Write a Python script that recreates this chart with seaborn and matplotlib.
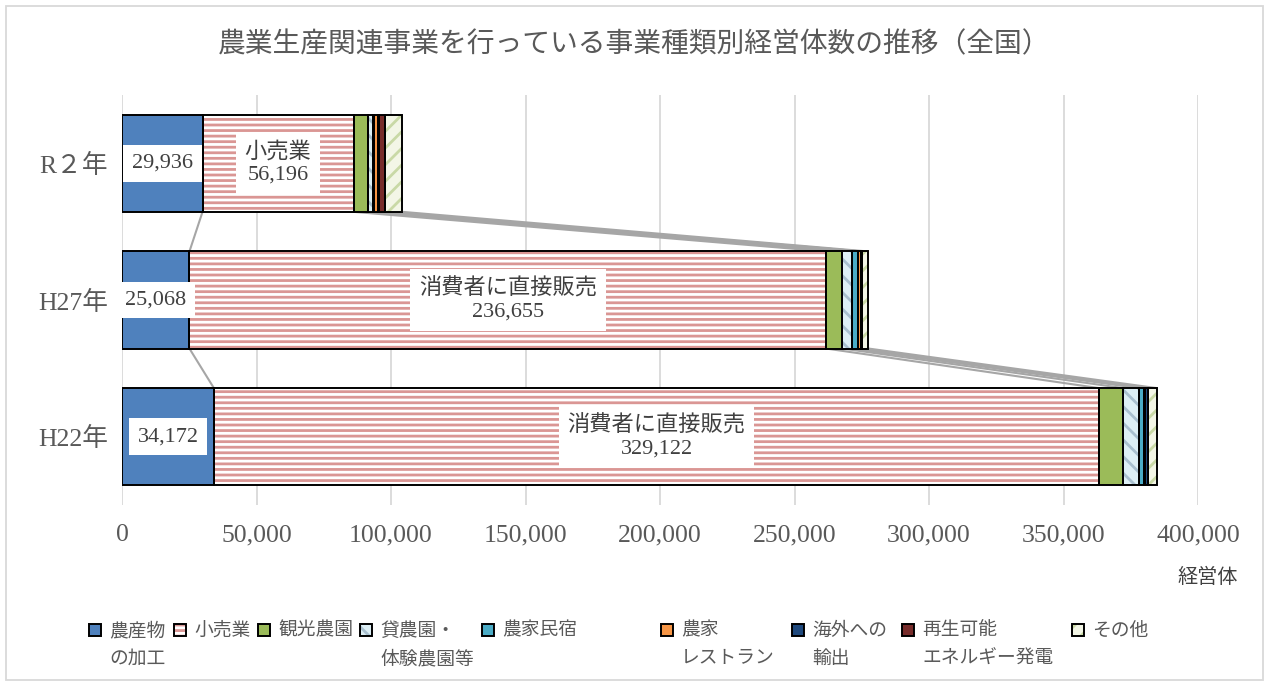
import numpy as np
import pandas as pd
import matplotlib
matplotlib.use("Agg")
import matplotlib.pyplot as plt
import seaborn as sns
from matplotlib.patches import Rectangle
from matplotlib.ticker import FuncFormatter

# ---------------- data ----------------
title = "農業生産関連事業を行っている事業種類別経営体数の推移（全国）"
years = ["R２年", "H27年", "H22年"]
series_names = ["農産物\nの加工", "小売業", "観光農園", "貸農園・\n体験農園等", "農家民宿",
                "農家\nレストラン", "海外への\n輸出", "再生可能\nエネルギー発電", "その他"]
processing = [29936, 25068, 34172]
retail = [56196, 236655, 329122]
tourist_farm = [5300, 6100, 9000]
rental_farm = [1800, 3700, 5900]
farm_inn = [600, 1900, 1900]
farm_restaurant = [1200, 1200, 300]
export = [500, 600, 1100]
renewable = [2100, 0, 0]
other = [6600, 2200, 3300]
retail_label_names = ["小売業", "消費者に直接販売", "消費者に直接販売"]
x_ticks = [0, 50000, 100000, 150000, 200000, 250000, 300000, 350000, 400000]
x_unit = "経営体"

all_series = [processing, retail, tourist_farm, rental_farm, farm_inn,
              farm_restaurant, export, renewable, other]

# face colour, hatch colour, hatch pattern
styles = [
    ("#4F81BD", "#4F81BD", None),
    ("white", "#DA9694", "---"),
    ("#9BBB59", "#9BBB59", None),
    ("#DDEFF5", "#A9C0CF", "\\\\"),
    ("#4BACC6", "#4BACC6", None),
    ("#F79646", "#F79646", None),
    ("#1F497D", "#1F497D", None),
    ("#772C2A", "#772C2A", None),
    ("#F3F6E6", "#C9D9A6", "//"),
]

# legend layout (pixel x of each key centre)
legend_key_px = [95, 180, 264, 366, 488, 667, 798, 908, 1078]

# ---------------- style ----------------
W, H = 1269, 686
sns.set_theme(style="white")
plt.rcParams["font.family"] = ["Liberation Serif", "Noto Sans CJK JP"]
plt.rcParams["hatch.linewidth"] = 2.0

fig = plt.figure(figsize=(W / 100, H / 100), dpi=100)
ax = fig.add_axes([122 / W, 1 - 505 / H, (1198 - 122) / W, 410 / H])

bar_h = 0.71
lefts = np.zeros(len(years))
for vals, (fc, hc, hatch) in zip(all_series, styles):
    v = np.asarray(vals, dtype=float)
    sns.barplot(x=v, y=years, order=years, orient="h", width=bar_h, left=lefts,
                color=fc, saturation=1, facecolor=fc, edgecolor=hc, linewidth=0,
                hatch=hatch, errorbar=None, ax=ax, zorder=2)
    sns.barplot(x=v, y=years, order=years, orient="h", width=bar_h, left=lefts,
                color="black", saturation=1, facecolor="none", edgecolor="black",
                linewidth=1.4, errorbar=None, ax=ax, zorder=3)
    lefts = lefts + v

# series lines between bars
cum = np.cumsum(np.array(all_series, dtype=float).T, axis=1)
for i in range(len(years) - 1):
    for k in range(cum.shape[1]):
        ax.plot([cum[i, k], cum[i + 1, k]], [i + bar_h / 2, i + 1 - bar_h / 2],
                color="#A6A6A6", lw=1.5, zorder=1, solid_capstyle="butt")

# data labels
box = dict(boxstyle="square,pad=0.4", fc="white", ec="none")
for i in range(len(years)):
    ax.text(processing[i] / 2, i, f"{processing[i]:,}", ha="center", va="center",
            fontsize=16, color="#404040", bbox=box, zorder=6)
    ax.text(processing[i] + retail[i] / 2, i, f"{retail_label_names[i]}\n{retail[i]:,}",
            ha="center", va="center", fontsize=16, color="#404040", bbox=box,
            zorder=6, linespacing=1.25)

# axes
ax.set_xlim(0, 400000)
ax.set_ylim(len(years) - 0.5, -0.5)
ax.set_xticks(x_ticks)
ax.xaxis.set_major_formatter(FuncFormatter(lambda v, p: f"{int(v):,}"))
ax.tick_params(axis="x", length=0, pad=14, labelsize=18.5, labelcolor="#595959")
ax.tick_params(axis="y", length=0, pad=10, labelsize=18.5, labelcolor="#595959")
ax.set_xlabel("")
ax.set_ylabel("")
for s in ax.spines.values():
    s.set_visible(False)
ax.grid(axis="x", color="#D9D9D9", lw=1.3)
ax.grid(axis="y", visible=False)
ax.set_axisbelow(True)

# title and unit
fig.text(0.5, 1 - 45 / H, title, ha="center", va="center", fontsize=20, color="#595959")
fig.text(1238 / W, 1 - 578 / H, x_unit, ha="right", va="center", fontsize=14.5, color="#404040")

# legend (keys aligned with first line of each label, as in the source)
key = 12
for xc, name, (fc, hc, hatch) in zip(legend_key_px, series_names, styles):
    y0 = 630
    fig.patches.append(Rectangle(((xc - key / 2) / W, 1 - (y0 + key / 2) / H), key / W, key / H,
                                 transform=fig.transFigure, facecolor=fc, edgecolor=hc,
                                 hatch=hatch, linewidth=0))
    fig.patches.append(Rectangle(((xc - key / 2) / W, 1 - (y0 + key / 2) / H), key / W, key / H,
                                 transform=fig.transFigure, facecolor="none",
                                 edgecolor="black", linewidth=1.4))
    for j, line in enumerate(name.split("\n")):
        fig.text((xc + 14) / W, 1 - (y0 + 1 + 28 * j) / H, line, ha="left", va="center",
                 fontsize=13.5, color="#595959")

# figure border
fig.patches.append(Rectangle((6 / W, 6 / H), 1257 / W, 674 / H,
                             transform=fig.transFigure, fill=False,
                             ec="#D9D9D9", lw=1.3))

fig.savefig("out.png", dpi=100)
